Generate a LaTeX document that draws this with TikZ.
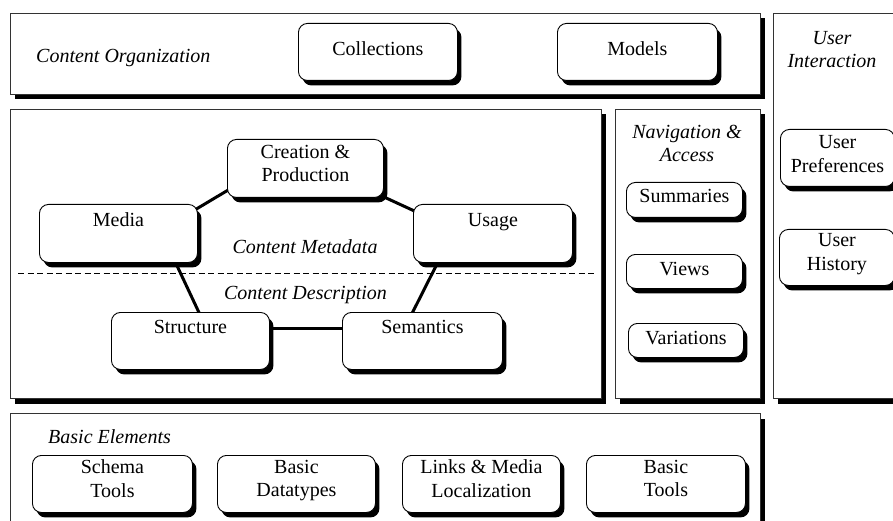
\documentclass[tikz,border=0pt]{standalone}
\usepackage{fontspec}
\setmainfont{Liberation Serif}
\usetikzlibrary{shadows,calc}
\pgfdeclarelayer{bg}
\pgfdeclarelayer{mid}
\pgfsetlayers{bg,mid,main}
\newcommand\dgfont{\fontsize{20}{23.3}\selectfont}
\tikzset{
  shad/.style={drop shadow={shadow xshift=4pt, shadow yshift=-5pt, fill=black, opacity=1}},
  bigbox/.style={draw=black!80, line width=1pt, fill=white, shad, inner sep=0pt, anchor=north west},
  smallbox/.style={draw=black, line width=0.9pt, fill=white, rounded corners=9pt, shad, inner sep=0pt, anchor=north west},
  lbl/.style={font=\dgfont, align=center, inner sep=0pt, anchor=north, execute at begin node=\strut},
  ital/.style={font=\dgfont\itshape, align=center, inner sep=0pt},
  link/.style={line width=3pt, black},
  divider/.style={line width=1pt, dash pattern=on 6pt off 3.5pt},
}
\begin{document}
\begin{tikzpicture}[x=1pt, y=-1pt]
\useasboundingbox (0,0) rectangle (893,521);
% big frames
\begin{pgfonlayer}{bg}
  \node[bigbox, minimum width=750pt, minimum height=81pt] (org) at (10,13) {};
  \node[bigbox, minimum width=121pt, minimum height=385pt] (ui) at (773,13) {};
  \node[bigbox, minimum width=591pt, minimum height=289pt] (meta) at (10,109) {};
  \node[bigbox, minimum width=145pt, minimum height=289pt] (nav) at (615,109) {};
  \node[bigbox, minimum width=750pt, minimum height=130pt] (basic) at (10,413) {};
\end{pgfonlayer}
% frame titles
\node[ital, anchor=base west] (orgtitle) at (36,63) {Content Organization};
\node[ital, anchor=north, execute at begin node=\strut] (uititle) at (832,31.2) {User\\Interaction};
\node[ital, anchor=base] (metatitle) at (305,253) {Content Metadata};
\node[ital, anchor=base] (desctitle) at (305.5,299) {Content Description};
\node[ital, anchor=north, execute at begin node=\strut] (navtitle) at (687,124.7) {Navigation \&\\Access};
\node[ital, anchor=base west] (basictitle) at (48,443) {Basic Elements};
% content organization
\node[smallbox, minimum width=159pt, minimum height=57pt] (coll) at (298,23) {};
\node[lbl] (coll-t) at ($(coll.north)+(0,15.7)$) {Collections};
\node[smallbox, minimum width=160pt, minimum height=57pt] (models) at (557,23) {};
\node[lbl] (models-t) at ($(models.north)+(0,15.7)$) {Models};
% content metadata / description
\node[smallbox, minimum width=156pt, minimum height=58pt] (creation) at (227,139) {};
\node[lbl] (creation-t) at ($(creation.north)+(0,5.7)$) {Creation \&\\Production};
\node[smallbox, minimum width=158pt, minimum height=58pt] (media) at (39,204) {};
\node[lbl] (media-t) at ($(media.north)+(0,5.7)$) {Media};
\node[smallbox, minimum width=159pt, minimum height=58pt] (usage) at (413,204) {};
\node[lbl] (usage-t) at ($(usage.north)+(0,5.7)$) {Usage};
\node[smallbox, minimum width=158pt, minimum height=57pt] (structure) at (111,312) {};
\node[lbl] (structure-t) at ($(structure.north)+(0,4.7)$) {Structure};
\node[smallbox, minimum width=160pt, minimum height=57pt] (semantics) at (342,312) {};
\node[lbl] (semantics-t) at ($(semantics.north)+(0,4.7)$) {Semantics};
% navigation & access
\node[smallbox, minimum width=116pt, minimum height=35pt] (summ) at (626,182) {};
\node[lbl] (summ-t) at ($(summ.north)+(0,3.7)$) {Summaries};
\node[smallbox, minimum width=116pt, minimum height=34pt] (views) at (626,254) {};
\node[lbl] (views-t) at ($(views.north)+(0,4.7)$) {Views};
\node[smallbox, minimum width=115pt, minimum height=34pt] (var) at (628,323) {};
\node[lbl] (var-t) at ($(var.north)+(0,4.7)$) {Variations};
% user interaction
\node[smallbox, minimum width=114pt, minimum height=57pt] (prefs) at (780,129) {};
\node[lbl] (prefs-t) at ($(prefs.north)+(0,6.7)$) {User\\Preferences};
\node[smallbox, minimum width=115pt, minimum height=56pt] (hist) at (779,229) {};
\node[lbl] (hist-t) at ($(hist.north)+(0,4.7)$) {User\\History};
% basic elements
\node[smallbox, minimum width=160pt, minimum height=57pt] (schema) at (32,455) {};
\node[lbl] (schema-t) at ($(schema.north)+(0,4.7)$) {Schema\\Tools};
\node[smallbox, minimum width=158pt, minimum height=57pt] (dtypes) at (217,455) {};
\node[lbl] (dtypes-t) at ($(dtypes.north)+(0,4.7)$) {Basic\\Datatypes};
\node[smallbox, minimum width=158pt, minimum height=57pt] (links) at (402,455) {};
\node[lbl] (links-t) at ($(links.north)+(0,4.7)$) {Links \& Media\\Localization};
\node[smallbox, minimum width=159pt, minimum height=57pt] (btools) at (586,455) {};
\node[lbl] (btools-t) at ($(btools.north)+(0,4.7)$) {Basic\\Tools};
% connectors behind the boxes
\coordinate (pm) at ($(media.center)+(42,-3)$);
\coordinate (pc) at ($(creation.center)+(-16,-15)$);
\coordinate (pu) at ($(usage.center)+(-38.5,-4)$);
\coordinate (ps) at ($(semantics.center)+(-18,-12.5)$);
\coordinate (pt) at ($(structure.center)+(16,-12.5)$);
\coordinate (dl) at ($(meta.west |- 0,273)+(8,0)$);
\coordinate (dr) at ($(meta.east |- 0,273)+(-6,0)$);
\begin{pgfonlayer}{mid}
  \draw[link] (pm) -- (pc);
  \draw[link] (pc) -- (pu);
  \draw[link] (pu) -- (ps);
  \draw[link] (ps) -- (pt);
  \draw[link] (pt) -- (pm);
  \draw[divider] (dl) -- (dr);
\end{pgfonlayer}
\end{tikzpicture}
\end{document}
